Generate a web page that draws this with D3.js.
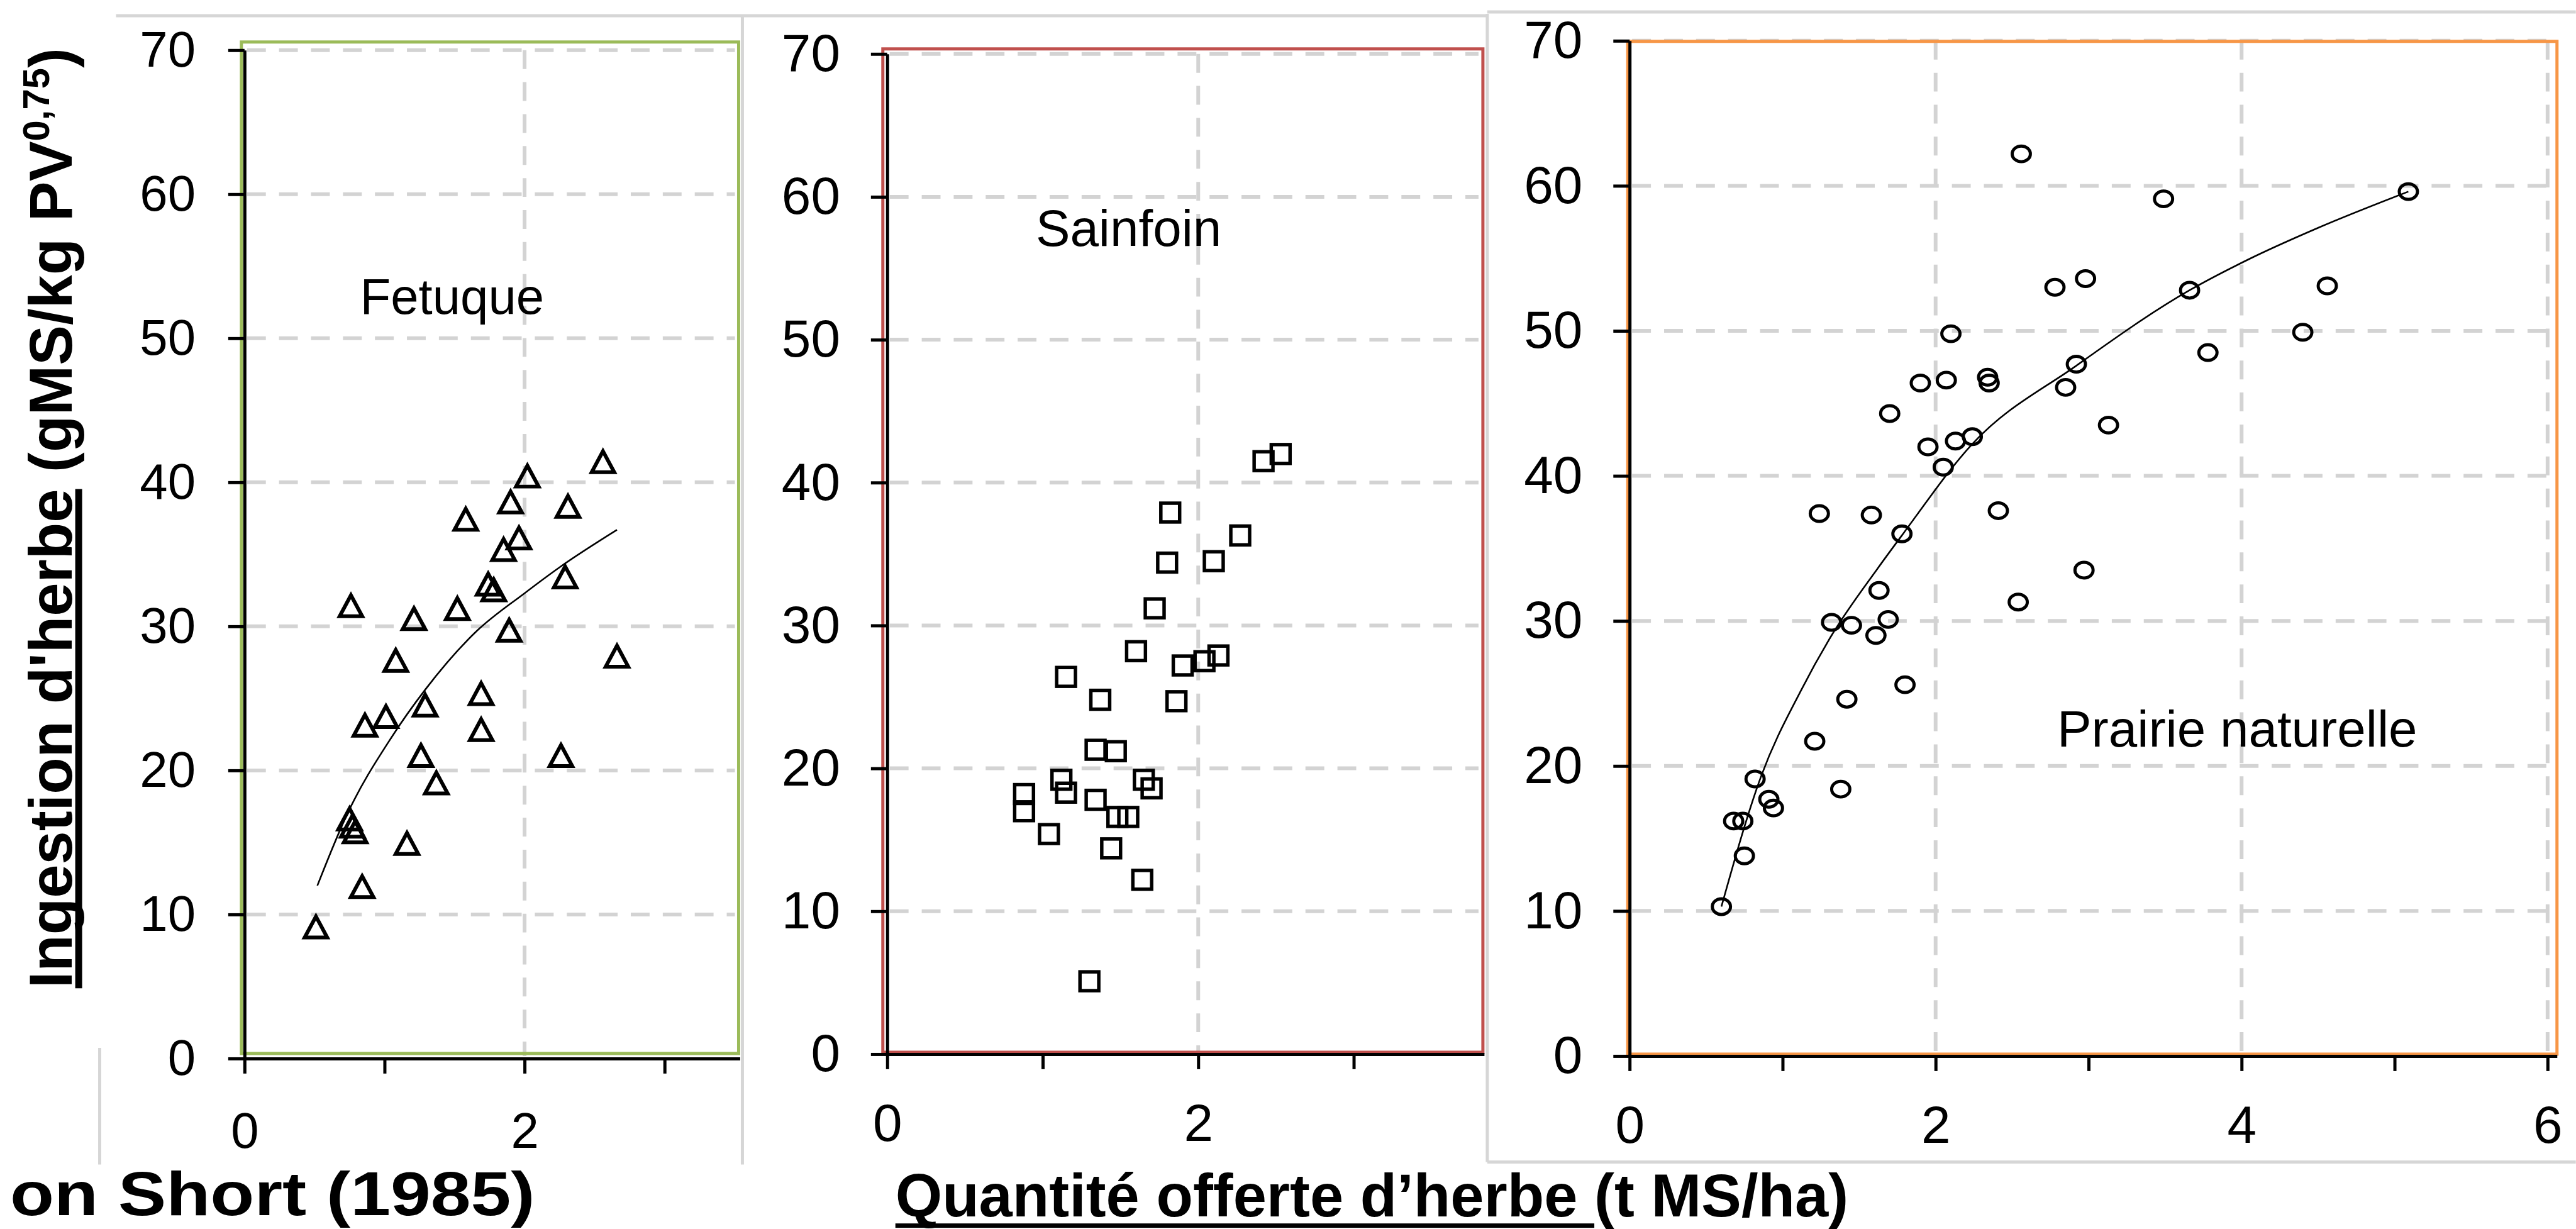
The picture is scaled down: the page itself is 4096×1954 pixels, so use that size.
<!DOCTYPE html>
<html>
<head>
<meta charset="utf-8">
<script src="https://cdn.jsdelivr.net/npm/d3@7"></script>
<style>
  body { margin: 0; background: #fff; }
  text { font-family: "Liberation Sans", Arial, sans-serif; }
</style>
</head>
<body>
<script>
// Fetuque (triangles)
var fetuqueX = [2.56, 2.02, 1.90, 2.31, 1.58, 1.96, 1.85, 2.29, 1.74, 1.78,
                0.76, 1.21, 1.52, 1.89, 2.66, 1.08, 1.69, 1.29, 1.01, 0.86,
                1.69, 1.26, 2.26, 1.37, 0.75, 0.77, 0.79, 1.16, 0.84, 0.51];
var fetuqueY = [41.4, 40.4, 38.6, 38.3, 37.4, 36.1, 35.3, 33.4, 32.9, 32.5,
                31.4, 30.5, 31.2, 29.7, 27.9, 27.6, 25.3, 24.5, 23.7, 23.1,
                22.8, 21.0, 21.0, 19.1, 16.6, 16.1, 15.7, 14.9, 11.9, 9.1];
var fetuqueCurveX = [0.52, 0.73, 1.05, 1.29, 1.65, 2.00, 2.25, 2.66];
var fetuqueCurveY = [12.0, 16.9, 22.3, 25.6, 29.6, 32.3, 34.1, 36.7];

// Sainfoin (squares)
var sainfoinX = [2.53, 2.42, 1.82, 2.27, 1.80, 2.10, 1.72, 1.60, 1.90, 2.04,
                 2.13, 1.15, 1.37, 1.86, 1.34, 1.47, 1.12, 1.15, 1.65, 1.70,
                 0.88, 0.88, 1.34, 1.48, 1.55, 1.04, 1.44, 1.64, 1.30];
var sainfoinY = [42.0, 41.5, 37.9, 36.3, 34.4, 34.5, 31.2, 28.2, 27.2, 27.5,
                 27.9, 26.4, 24.8, 24.7, 21.3, 21.2, 19.2, 18.3, 19.2, 18.6,
                 18.2, 17.0, 17.8, 16.6, 16.6, 15.4, 14.4, 12.2, 5.1];

// Prairie naturelle (circles)
var prairieX = [2.56, 3.49, 5.09, 2.78, 2.98, 3.66, 4.56, 4.40, 3.78, 2.10,
                2.92, 2.85, 1.90, 2.07, 2.34, 2.35, 1.70, 3.13, 1.95, 2.13,
                2.24, 2.05, 1.24, 1.58, 2.41, 1.78, 2.97, 1.63, 2.54, 1.32,
                1.45, 1.69, 1.61, 1.80, 1.42, 1.21, 1.38, 0.82, 0.91, 0.94,
                0.68, 0.74, 0.75, 0.60];
var prairieY = [62.2, 59.1, 59.6, 53.0, 53.6, 52.8, 53.1, 49.9, 48.5, 49.8,
                47.7, 46.1, 46.4, 46.6, 46.8, 46.4, 44.3, 43.5, 42.0, 42.4,
                42.7, 40.6, 37.4, 37.3, 37.6, 36.0, 33.5, 32.1, 31.3, 29.9,
                29.7, 30.1, 29.0, 25.6, 24.6, 21.7, 18.4, 19.1, 17.7, 17.1,
                16.2, 16.2, 13.8, 10.3];
var prairieCurveX = [0.60, 0.86, 1.12, 1.32, 1.62, 1.78, 2.24, 2.92, 3.66, 4.04, 4.50, 5.09];
var prairieCurveY = [10.3, 19.3, 25.2, 29.0, 33.6, 35.9, 42.2, 47.6, 52.8, 54.9, 57.1, 59.6];

var yTicks = [0, 10, 20, 30, 40, 50, 60, 70];
var yGrid = [10, 20, 30, 40, 50, 60, 70];
var panelNames = ['Fetuque', 'Sainfoin', 'Prairie naturelle'];
var yTitle = ["Ingestion d'herbe", ' (gMS/kg PV', '0,75', ')'];
var xTitle = ['Quantité offerte d’herbe ', '(t MS/ha)'];
var sourceText = 'on Short (1985)';

var k = 0.997;
var svg = d3.select('body').append('svg')
    .attr('width', 4096).attr('height', 1954);
var g = svg.append('g').attr('transform', 'scale(' + k + ')');

// screenshot frame lines
var frameLines = [
  [185, 25, 2372, 25], [2372, 19, 4108, 19],
  [1184, 25, 1184, 1857], [159, 1671, 159, 1857],
  [2372, 22, 2372, 1853], [2372, 1853, 4108, 1853]
];
g.selectAll('line.frame').data(frameLines).join('line')
    .attr('class', 'frame')
    .attr('x1', function(d) { return d[0]; }).attr('y1', function(d) { return d[1]; })
    .attr('x2', function(d) { return d[2]; }).attr('y2', function(d) { return d[3]; })
    .attr('stroke', '#d6d6d6').attr('stroke-width', 5);

var panels = [
  { x0: 390, x2: 836.6, xEnd: 1180, yTop: 80, yBottom: 1688,
    box: [385, 67, 1178, 1680], color: '#9bbb59', font: 80,
    yPad: 52, xPad: 62, gridEnd: 1172, vGrid: [2],
    label: [721, 500, 80], xs: fetuqueX, ys: fetuqueY, marker: 'triangle',
    cx: fetuqueCurveX, cy: fetuqueCurveY },
  { x0: 1415, x2: 1911, xEnd: 2367, yTop: 86, yBottom: 1681,
    box: [1408, 78, 2365, 1678], color: '#c0504d', font: 84,
    yPad: 49, xPad: 55, gridEnd: 2358, vGrid: [2],
    label: [1800, 392, 82], xs: sainfoinX, ys: sainfoinY, marker: 'square' },
  { x0: 2599, x2: 3087, xEnd: 4078, yTop: 65, yBottom: 1684,
    box: [2596, 66, 4078, 1681], color: '#f79646', font: 84,
    yPad: 49, xPad: 55, gridEnd: 4066, vGrid: [2, 4, 6],
    label: [3568, 1191, 82], xs: prairieX, ys: prairieY, marker: 'circle',
    cx: prairieCurveX, cy: prairieCurveY }
];

panels.forEach(function(p, i) {
  var xMax = 2 * (p.xEnd - p.x0) / (p.x2 - p.x0);
  var x = d3.scaleLinear().domain([0, xMax]).range([p.x0, p.xEnd]);
  var y = d3.scaleLinear().domain([0, 70]).range([p.yBottom, p.yTop]);
  var pg = g.append('g');

  // dashed grid
  pg.selectAll('line.hg').data(yGrid).join('line')
      .attr('x1', p.x0 + 4).attr('x2', p.gridEnd)
      .attr('y1', y).attr('y2', y)
      .attr('stroke', '#d3d3d3').attr('stroke-width', 6)
      .attr('stroke-dasharray', '30 21');
  pg.selectAll('line.vg').data(p.vGrid).join('line')
      .attr('x1', x).attr('x2', x)
      .attr('y1', y(70)).attr('y2', y(0) - 4)
      .attr('stroke', '#d3d3d3').attr('stroke-width', 6)
      .attr('stroke-dasharray', '30 21');

  // plot-area border
  pg.append('rect')
      .attr('x', p.box[0]).attr('y', p.box[1])
      .attr('width', p.box[2] - p.box[0]).attr('height', p.box[3] - p.box[1])
      .attr('fill', 'none').attr('stroke', p.color).attr('stroke-width', 5);

  // axes
  var ya = pg.append('g')
      .attr('transform', 'translate(' + p.x0 + ',0)')
      .call(d3.axisLeft(y).tickValues(yTicks).tickSize(26).tickSizeOuter(0).tickPadding(p.yPad));
  var xa = pg.append('g')
      .attr('transform', 'translate(0,' + p.yBottom + ')')
      .call(d3.axisBottom(x).tickValues(d3.range(0, Math.floor(xMax) + 1))
          .tickSize(24).tickSizeOuter(0).tickPadding(p.xPad)
          .tickFormat(function(d) { return d % 2 === 0 ? d : ''; }));
  [ya, xa].forEach(function(a) {
    a.attr('font-size', p.font).attr('font-family', '"Liberation Sans", Arial, sans-serif');
    a.selectAll('path, line').attr('stroke-width', 5).attr('stroke', '#000');
    a.selectAll('text').attr('fill', '#000');
  });

  // fitted curve
  if (p.cx) {
    var pts = p.cx.map(function(v, j) { return [v, p.cy[j]]; });
    pg.append('path')
        .attr('d', d3.line().x(function(d) { return x(d[0]); })
            .y(function(d) { return y(d[1]); }).curve(d3.curveMonotoneX)(pts))
        .attr('fill', 'none').attr('stroke', '#000').attr('stroke-width', 2.6);
  }

  // markers
  var pts2 = p.xs.map(function(v, j) { return [v, p.ys[j]]; });
  var m = pg.selectAll('.mk').data(pts2).join('g')
      .attr('transform', function(d) { return 'translate(' + x(d[0]) + ',' + y(d[1]) + ')'; });
  if (p.marker === 'triangle') {
    m.append('path').attr('d', 'M0,-17.5L18,16L-18,16Z')
        .attr('fill', 'none').attr('stroke', '#000').attr('stroke-width', 6)
        .attr('stroke-linejoin', 'miter');
  } else if (p.marker === 'square') {
    m.append('rect').attr('x', -15).attr('y', -15).attr('width', 30).attr('height', 30)
        .attr('fill', 'none').attr('stroke', '#000').attr('stroke-width', 5.5);
  } else {
    m.append('ellipse').attr('rx', 14.5).attr('ry', 12.5)
        .attr('fill', 'none').attr('stroke', '#000').attr('stroke-width', 5);
  }

  // panel name
  pg.append('text')
      .attr('x', p.label[0]).attr('y', p.label[1])
      .attr('text-anchor', 'middle').attr('font-size', p.label[2])
      .attr('fill', '#000').text(panelNames[i]);
});

// y title
var yt = g.append('text')
    .attr('transform', 'translate(114,1576) rotate(-90)')
    .attr('font-size', 96).attr('font-weight', 'bold').attr('fill', '#000');
var ytU = yt.append('tspan').text(yTitle[0]);
yt.append('tspan').text(yTitle[1]);
yt.append('tspan').attr('font-size', 60).attr('dy', -36).text(yTitle[2]);
yt.append('tspan').attr('dy', 36).text(yTitle[3]);
var uLen = ytU.node().getComputedTextLength();
g.append('rect').attr('x', 120).attr('y', 1576 - uLen).attr('width', 11).attr('height', uLen)
    .attr('fill', '#000');

// x title
var xt = g.append('text')
    .attr('x', 1428).attr('y', 1940)
    .attr('font-size', 96).attr('font-weight', 'bold').attr('fill', '#000')
    .style('white-space', 'pre');
var xtU = xt.append('tspan').text(xTitle[0]);
xt.append('tspan').text(xTitle[1]);
var xLen = xtU.node().getComputedTextLength();
g.append('rect').attr('x', 1428).attr('y', 1951).attr('width', xLen).attr('height', 7)
    .attr('fill', '#000');

// source note, bottom left (kept clear of the tick labels and the lower edge)
g.append('text')
    .attr('x', 16).attr('y', 1938)
    .attr('font-size', 99).attr('font-weight', 'bold').attr('fill', '#000')
    .attr('textLength', 837).attr('lengthAdjust', 'spacingAndGlyphs')
    .text(sourceText);
</script>
</body>
</html>
